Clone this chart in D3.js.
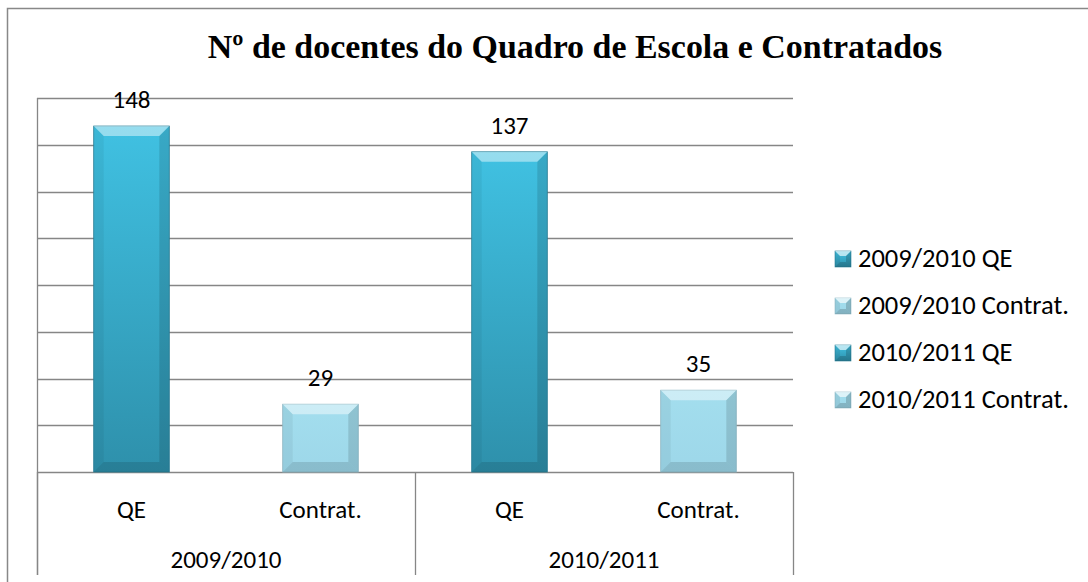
<!DOCTYPE html>
<html>
<head>
<meta charset="utf-8">
<script src="https://cdn.jsdelivr.net/npm/d3@7"></script>
<style>
  body { margin: 0; background: #ffffff; }
  svg { display: block; }
</style>
</head>
<body>
<div id="chart"></div>
<script>
var years = ["2009/2010", "2010/2011"];
var types = ["QE", "Contrat."];
var values2009 = [148, 29];
var values2010 = [137, 35];
var yTicks = [0, 20, 40, 60, 80, 100, 120, 140, 160];
var chartTitle = "Nº de docentes do Quadro de Escola e Contratados";

var width = 1088, height = 582;
var plot = { left: 37, right: 793, top: 98, bottom: 472 };
var labelFont = "Carlito, Lato, sans-serif";
var labelSize = "25px";

var dataset = [];
years.forEach(function (yr, i) {
    var vals = i === 0 ? values2009 : values2010;
    types.forEach(function (t, j) {
        dataset.push({ year: yr, type: t, value: vals[j], name: yr + " " + t });
    });
});

var svg = d3.select("#chart")
    .append("svg")
    .attr("width", width)
    .attr("height", height);

var defs = svg.append("defs");
function addGradient(id, top, bottom) {
    var g = defs.append("linearGradient")
        .attr("id", id)
        .attr("x1", 0).attr("y1", 0).attr("x2", 0).attr("y2", 1);
    g.append("stop").attr("offset", "0%").attr("stop-color", top);
    g.append("stop").attr("offset", "100%").attr("stop-color", bottom);
}
addGradient("gradQE", "#40C1E2", "#2E90AB");
addGradient("gradCT", "#A3DEEE", "#9DD7E9");

var fillFor = function (type) { return type === "QE" ? "url(#gradQE)" : "url(#gradCT)"; };

// outer chart border (right edge runs off the page)
svg.append("path")
    .attr("d", "M7.5,582 L7.5,8.5 L1095,8.5")
    .attr("fill", "none")
    .attr("stroke", "#888888")
    .attr("stroke-width", 1.5);

// title, scaled to the width it has in the original
var title = svg.append("text")
    .attr("x", 575)
    .attr("y", 58)
    .attr("text-anchor", "middle")
    .attr("font-family", "'Liberation Serif', 'Times New Roman', Tinos, 'DejaVu Serif', serif")
    .attr("font-weight", "bold")
    .attr("font-size", 33)
    .attr("fill", "#000000")
    .text(chartTitle);
var tw = title.node().getComputedTextLength();
if (tw > 0) title.attr("font-size", 33 * 735 / tw);

var x0 = d3.scaleBand()
    .domain(years)
    .range([plot.left, plot.right]);

var x1 = d3.scaleBand()
    .domain(types)
    .range([0, x0.bandwidth()]);

var y = d3.scaleLinear()
    .domain([0, 160])
    .range([plot.bottom, plot.top]);

// gridlines
svg.append("g")
    .selectAll("line")
    .data(yTicks)
    .enter()
    .append("line")
    .attr("x1", plot.left)
    .attr("x2", plot.right)
    .attr("y1", d => Math.round(y(d)) + 0.5)
    .attr("y2", d => Math.round(y(d)) + 0.5)
    .attr("stroke", "#868686")
    .attr("stroke-width", 1.3);

// y axis line
svg.append("line")
    .attr("x1", plot.left + 0.5).attr("x2", plot.left + 0.5)
    .attr("y1", plot.top).attr("y2", 575)
    .attr("stroke", "#868686")
    .attr("stroke-width", 1.3);

// category axis separators
svg.append("g")
    .selectAll("line")
    .data(years.concat(["end"]))
    .enter()
    .append("line")
    .attr("x1", d => (d === "end" ? plot.right : x0(d)) + 0.5)
    .attr("x2", d => (d === "end" ? plot.right : x0(d)) + 0.5)
    .attr("y1", plot.bottom)
    .attr("y2", 575)
    .attr("stroke", "#868686")
    .attr("stroke-width", 1.3);

var barW = x1.bandwidth() * 0.4;
var bevel = 10;

var bars = svg.append("g")
    .selectAll("g")
    .data(dataset)
    .enter()
    .append("g")
    .attr("transform", d => "translate(" + (x0(d.year) + x1(d.type) + (x1.bandwidth() - barW) / 2) + ",0)");

bars.append("rect")
    .attr("x", 0)
    .attr("y", d => y(d.value))
    .attr("width", barW)
    .attr("height", d => y(0) - y(d.value))
    .attr("fill", d => fillFor(d.type))
    .attr("stroke", d => d.type === "QE" ? "#2a7f97" : "#8fb9c6")
    .attr("stroke-width", 0.8);

function bevelPaths(w, h, b) {
    return [
        { d: [[0, 0], [w, 0], [w - b, b], [b, b]], c: "#ffffff", o: 0.45 },
        { d: [[0, 0], [b, b], [b, h - b], [0, h]], c: "#000000", o: 0.05 },
        { d: [[w, 0], [w - b, b], [w - b, h - b], [w, h]], c: "#000000", o: 0.12 },
        { d: [[0, h], [b, h - b], [w - b, h - b], [w, h]], c: "#000000", o: 0.12 }
    ];
}

bars.each(function (d) {
    var g = d3.select(this);
    var top = y(d.value);
    var h = y(0) - top;
    g.selectAll("path.bevel")
        .data(bevelPaths(barW, h, bevel))
        .enter()
        .append("path")
        .attr("class", "bevel")
        .attr("transform", "translate(0," + top + ")")
        .attr("d", p => d3.line()(p.d) + "Z")
        .attr("fill", p => p.c)
        .attr("fill-opacity", p => p.o);
});

// value labels
bars.append("text")
    .attr("x", barW / 2)
    .attr("y", d => y(d.value) - 18)
    .attr("text-anchor", "middle")
    .style("font-family", labelFont)
    .style("font-size", labelSize)
    .attr("fill", "#000000")
    .text(d => d.value);

// category labels
svg.append("g")
    .selectAll("text")
    .data(dataset)
    .enter()
    .append("text")
    .attr("x", d => x0(d.year) + x1(d.type) + x1.bandwidth() / 2)
    .attr("y", 518)
    .attr("text-anchor", "middle")
    .style("font-family", labelFont)
    .style("font-size", labelSize)
    .attr("fill", "#000000")
    .text(d => d.type);

svg.append("g")
    .selectAll("text")
    .data(years)
    .enter()
    .append("text")
    .attr("x", d => x0(d) + x0.bandwidth() / 2)
    .attr("y", 568)
    .attr("text-anchor", "middle")
    .style("font-family", labelFont)
    .style("font-size", labelSize)
    .attr("fill", "#000000")
    .text(d => d);

// legend
var legend = svg.append("g")
    .selectAll("g")
    .data(dataset)
    .enter()
    .append("g")
    .attr("transform", (d, i) => "translate(835," + (267 + i * 47) + ")");

var mk = 16;
legend.append("rect")
    .attr("y", -mk)
    .attr("width", mk)
    .attr("height", mk)
    .attr("fill", d => fillFor(d.type))
    .attr("stroke", d => d.type === "QE" ? "#2a7f97" : "#8fb9c6")
    .attr("stroke-width", 0.6);

legend.each(function () {
    d3.select(this).selectAll("path.bevel")
        .data(bevelPaths(mk, mk, 5))
        .enter()
        .append("path")
        .attr("transform", "translate(0," + (-mk) + ")")
        .attr("d", p => d3.line()(p.d) + "Z")
        .attr("fill", p => p.c)
        .attr("fill-opacity", p => p.o * 1.4);
});

legend.append("text")
    .attr("x", 23)
    .attr("y", 0)
    .style("font-family", labelFont)
    .style("font-size", "26.5px")
    .attr("fill", "#000000")
    .text(d => d.name);
</script>
</body>
</html>
